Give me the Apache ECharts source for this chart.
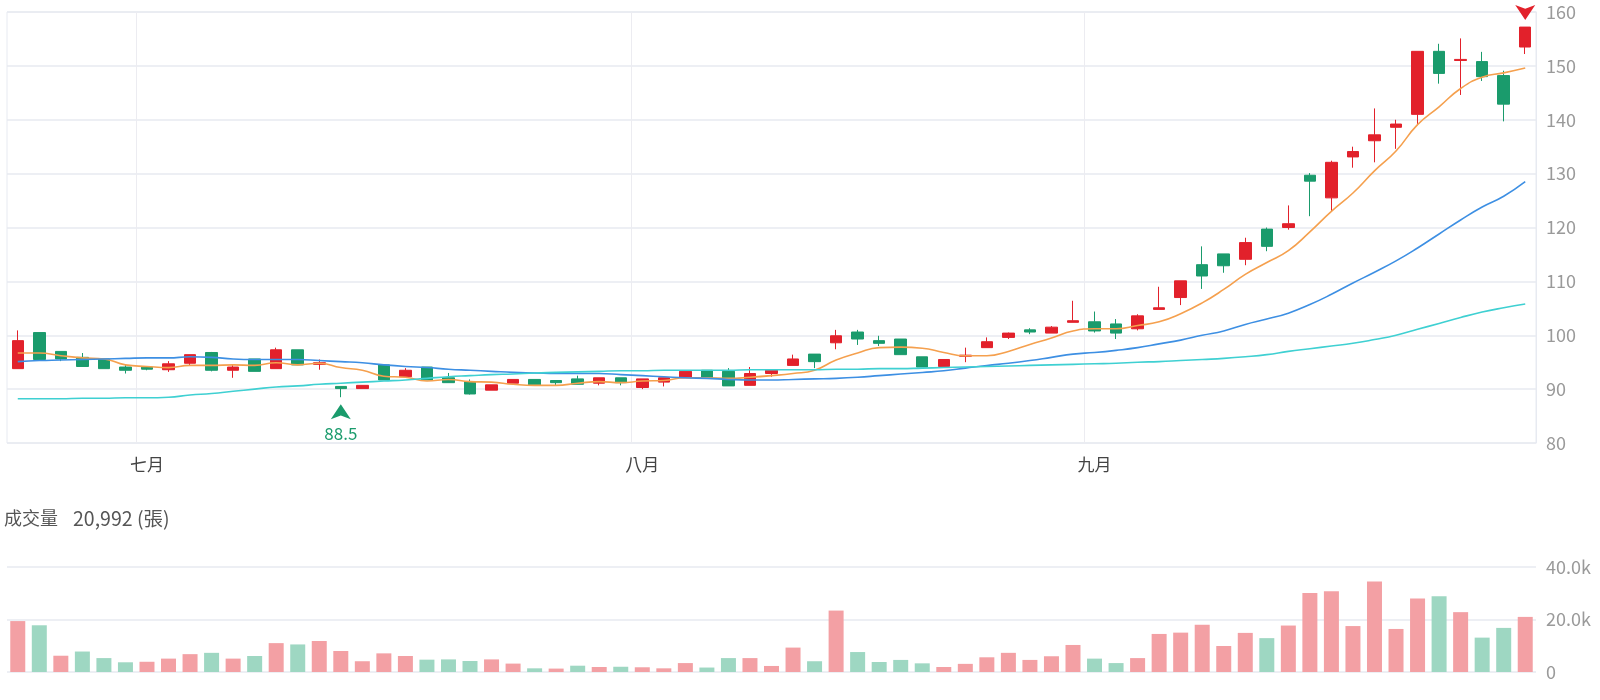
<!DOCTYPE html>
<html><head><meta charset="utf-8">
<script src="https://cdn.jsdelivr.net/npm/echarts@6/dist/echarts.min.js"></script>
<style>html,body{margin:0;padding:0;background:#fff}#c{width:1600px;height:700px}</style>
</head><body><div id="c"></div>
<script>
const dates = [
 '2024-06-21','2024-06-24','2024-06-25','2024-06-26','2024-06-27','2024-06-28',
 '2024-07-01','2024-07-02','2024-07-03','2024-07-04','2024-07-05','2024-07-08','2024-07-09','2024-07-10','2024-07-11','2024-07-12',
 '2024-07-15','2024-07-16','2024-07-17','2024-07-18','2024-07-19','2024-07-22','2024-07-23','2024-07-24','2024-07-25','2024-07-26',
 '2024-07-29','2024-07-30','2024-07-31',
 '2024-08-01','2024-08-02','2024-08-05','2024-08-06','2024-08-07','2024-08-08','2024-08-09','2024-08-12','2024-08-13','2024-08-14',
 '2024-08-15','2024-08-16','2024-08-19','2024-08-20','2024-08-21','2024-08-22','2024-08-23','2024-08-26','2024-08-27','2024-08-28','2024-08-29',
 '2024-09-02','2024-09-03','2024-09-04','2024-09-05','2024-09-06','2024-09-09','2024-09-10','2024-09-11','2024-09-12','2024-09-13',
 '2024-09-16','2024-09-17','2024-09-18','2024-09-19','2024-09-20','2024-09-23','2024-09-24','2024-09-25','2024-09-26','2024-09-27','2024-09-30'
];
const monthNames = {'06':'六月','07':'七月','08':'八月','09':'九月'};
const opens  = [93.8,100.5,97.0,95.9,95.6,94.1,94.1,93.6,94.8,96.8,93.5,95.6,93.8,97.3,94.6,90.5,90.1,94.5,92.3,94.1,92.1,91.4,89.8,91.1,91.8,91.6,91.9,91.1,92.1,90.3,91.3,92.1,93.5,93.3,90.7,92.9,94.4,96.5,98.6,100.6,99.0,99.3,96.0,94.2,96.1,97.7,99.6,101.0,100.4,102.4,102.5,102.1,101.2,104.8,107.0,113.1,115.1,114.1,119.7,120.0,129.7,125.5,133.1,136.1,138.6,141.0,152.7,151.0,150.8,148.2,153.5];
const closes = [99.0,95.5,95.6,94.2,93.8,93.5,93.7,94.7,96.4,93.5,94.1,93.3,97.3,94.5,94.9,90.1,90.7,91.7,93.5,91.7,91.2,89.1,90.8,91.8,90.8,91.2,90.9,92.1,91.2,91.9,92.1,93.3,92.1,90.6,92.9,93.5,95.6,95.1,99.9,99.3,98.5,96.4,94.1,95.5,96.3,98.8,100.4,100.6,101.5,102.7,100.8,100.4,103.6,105.1,110.1,111.0,112.9,117.2,116.5,120.7,128.6,132.1,134.1,137.2,139.2,152.7,148.6,151.2,148.0,142.9,157.2];
const lows   = [93.8,95.5,95.2,94.2,93.8,92.9,93.5,93.2,94.4,93.3,92.1,93.3,93.8,94.5,93.6,88.5,90.1,91.7,92.3,91.7,91.2,89.0,89.8,91.1,90.8,90.6,90.9,90.7,90.7,90.0,90.5,92.1,92.1,90.6,90.7,92.3,94.4,93.9,97.4,98.2,98.0,96.4,94.1,94.2,95.0,97.7,99.3,100.2,100.4,102.4,100.5,99.3,100.9,104.8,105.6,108.6,111.6,113.0,115.6,119.6,122.1,123.0,131.1,132.1,134.6,139.0,146.7,144.6,147.2,139.7,152.2];
const highs  = [100.9,100.5,97.0,96.7,95.6,94.5,94.2,95.2,96.4,96.9,94.5,95.6,97.7,97.3,95.5,90.5,90.7,94.5,93.9,94.1,93.0,91.8,90.8,91.8,91.8,91.6,92.5,92.1,92.1,91.9,92.1,93.3,93.5,93.9,94.1,93.5,96.4,96.5,101.0,101.0,99.9,99.3,96.0,95.5,97.7,99.6,100.5,101.3,101.7,106.4,104.4,103.0,103.9,109.0,110.1,116.5,115.1,118.1,120.0,124.1,130.1,132.4,135.0,142.1,140.0,152.7,154.1,155.1,152.6,149.1,157.2];
const volumes = [19400,17800,6200,7800,5300,3700,3900,5100,6800,7300,5100,6100,11000,10500,11800,8000,4100,7100,6100,4700,4800,4200,4800,3200,1400,1300,2400,1900,2000,1800,1400,3400,1700,5300,5300,2300,9300,4100,23400,7600,3800,4600,3300,1900,3100,5600,7300,4600,6000,10300,5100,3400,5300,14500,15000,18000,9900,14900,12900,17700,30100,30800,17500,34500,16400,28000,28900,22800,13100,16800,20992];
const volDir = [1,-1,1,-1,-1,-1,1,1,1,-1,1,-1,1,-1,1,1,1,1,1,-1,-1,-1,1,1,-1,1,-1,1,-1,1,1,1,-1,-1,1,1,1,-1,1,-1,-1,-1,-1,1,1,1,1,1,1,1,-1,-1,1,1,1,1,1,1,-1,1,1,1,1,1,1,1,-1,1,-1,-1,1];
const ma5  = [96.7,96.7,96.2,95.8,95.6,94.5,94.2,94.0,94.4,94.4,94.5,94.4,94.9,94.5,94.8,94.0,93.5,92.4,92.2,91.5,91.8,91.4,91.3,90.9,90.7,90.7,91.1,91.4,91.2,91.5,91.6,92.1,92.1,92.0,92.2,92.5,92.9,93.5,95.4,96.7,97.7,97.8,97.6,96.8,96.2,96.2,97.0,98.3,99.5,100.8,101.2,101.2,101.8,102.5,104.0,106.0,108.5,111.3,113.5,115.7,119.2,123.0,126.4,130.5,134.2,139.1,142.4,145.8,147.9,148.7,149.6];
const ma20 = [95.1,95.3,95.4,95.5,95.6,95.7,95.8,95.8,96.0,95.9,95.6,95.5,95.5,95.5,95.3,95.1,94.9,94.5,94.2,94.0,93.7,93.5,93.3,93.1,93.0,92.9,92.9,92.9,92.7,92.5,92.3,92.1,92.0,91.8,91.7,91.7,91.8,91.9,92.0,92.2,92.5,92.8,93.1,93.4,93.9,94.4,94.8,95.3,95.9,96.5,96.8,97.2,97.7,98.4,99.1,100.0,100.8,102.0,103.0,104.1,105.7,107.6,109.7,111.7,113.8,116.2,118.8,121.4,123.8,125.8,128.5];
const ma60 = [88.2,88.2,88.2,88.3,88.3,88.4,88.4,88.5,88.9,89.2,89.6,90.0,90.4,90.6,90.9,91.1,91.3,91.5,91.7,92.0,92.3,92.5,92.7,92.8,93.0,93.1,93.2,93.3,93.4,93.4,93.5,93.5,93.5,93.5,93.6,93.6,93.6,93.6,93.7,93.7,93.8,93.8,93.9,94.0,94.1,94.2,94.3,94.4,94.5,94.6,94.7,94.8,95.0,95.1,95.3,95.5,95.7,96.0,96.4,97.0,97.5,98.0,98.5,99.2,100.0,101.1,102.2,103.3,104.3,105.1,105.8];

const UP = '#e2212b', DOWN = '#1a9b6c';
const UPV = '#f3a0a4', DOWNV = '#9ed7c2';
const FONT = '"Noto Sans CJK TC", "Noto Sans", sans-serif';
const GRIDC = '#e7eaf1';

const kData = opens.map((o, i) => [o, closes[i], lows[i], highs[i]]);
const volData = volumes.map((v, i) => ({ value: v, itemStyle: { color: volDir[i] > 0 ? UPV : DOWNV } }));
const isMonthStart = (i) => i > 0 && dates[i].slice(5, 7) !== dates[i - 1].slice(5, 7);
const monthIntv = (i) => isMonthStart(i);

const chart = echarts.init(document.getElementById('c'), null, { renderer: 'canvas' });
chart.setOption({
  animation: false,
  backgroundColor: '#fff',
  textStyle: { fontFamily: FONT },
  graphic: [
    { type: 'text', left: 4, top: 509,
      style: { text: '成交量', fill: '#555', font: '18px ' + FONT } },
    { type: 'text', left: 73, top: 509,
      style: { text: volumes[volumes.length - 1].toLocaleString('en-US') + ' (張)', fill: '#555', font: '19.5px ' + FONT } }
  ],
  grid: [
    { left: 7, right: 64, top: 12, height: 431, show: true, borderColor: GRIDC, borderWidth: 1 },
    { left: 7, right: 64, top: 567, height: 105 }
  ],
  xAxis: [
    { type: 'category', data: dates, gridIndex: 0, boundaryGap: true,
      axisLine: { show: false }, axisTick: { show: false, interval: monthIntv },
      axisLabel: { interval: monthIntv, formatter: (v) => monthNames[v.slice(5, 7)], color: '#444', fontSize: 17, margin: 13, fontFamily: FONT },
      splitLine: { show: true, interval: monthIntv, lineStyle: { color: '#ececf1', width: 1 } } },
    { type: 'category', data: dates, gridIndex: 1, boundaryGap: true,
      axisLine: { show: false }, axisTick: { show: false }, axisLabel: { show: false }, splitLine: { show: false } }
  ],
  yAxis: [
    { type: 'value', gridIndex: 0, position: 'right', min: 80, max: 160, interval: 10,
      axisLine: { show: true, lineStyle: { color: GRIDC } }, axisTick: { show: false },
      axisLabel: { color: '#9a9a9a', fontSize: 18, margin: 10, fontFamily: FONT },
      splitLine: { lineStyle: { color: GRIDC, width: 1.5 } } },
    { type: 'value', gridIndex: 1, position: 'right', min: 0, max: 40000, interval: 20000,
      axisLine: { show: false }, axisTick: { show: false },
      axisLabel: { color: '#9a9a9a', fontSize: 18, margin: 10, fontFamily: FONT,
        formatter: (v) => v === 0 ? '0' : (v / 1000).toFixed(1) + 'k' },
      splitLine: { lineStyle: { color: GRIDC, width: 1.5 } } }
  ],
  series: [
    { type: 'candlestick', xAxisIndex: 0, yAxisIndex: 0, data: kData, barWidth: 12,
      itemStyle: { color: UP, color0: DOWN, borderColor: UP, borderColor0: DOWN, borderWidth: 1 },
      markPoint: {
        data: [
          { type: 'min', valueDim: 'lowest', symbol: 'arrow', symbolSize: [15, 15], symbolOffset: [0, 7],
            itemStyle: { color: DOWN },
            label: { show: true, position: 'bottom', distance: 6, color: DOWN, fontSize: 17, fontFamily: FONT,
              formatter: (p) => p.value } },
          { type: 'max', valueDim: 'highest', symbol: 'arrow', symbolSize: [15, 15], symbolRotate: 180, symbolOffset: [0, -7],
            itemStyle: { color: UP }, label: { show: false } }
        ]
      }
    },
    { type: 'line', xAxisIndex: 0, yAxisIndex: 0, data: ma5, smooth: true, showSymbol: false, symbol: 'none',
      lineStyle: { color: '#f5a04e', width: 1.6 }, z: 3 },
    { type: 'line', xAxisIndex: 0, yAxisIndex: 0, data: ma20, smooth: true, showSymbol: false, symbol: 'none',
      lineStyle: { color: '#3d8fe3', width: 1.6 }, z: 3 },
    { type: 'line', xAxisIndex: 0, yAxisIndex: 0, data: ma60, smooth: true, showSymbol: false, symbol: 'none',
      lineStyle: { color: '#3fd0d2', width: 1.6 }, z: 3 },
    { type: 'bar', xAxisIndex: 1, yAxisIndex: 1, data: volData, barWidth: 15 }
  ]
});
</script></body></html>
